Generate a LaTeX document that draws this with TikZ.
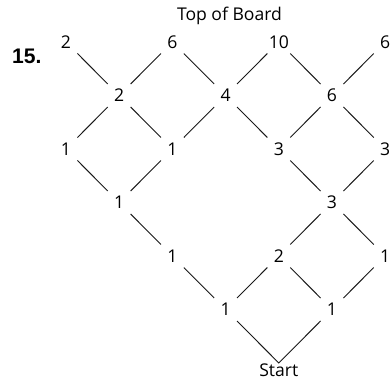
\documentclass[tikz,border=0pt]{standalone}
\usepackage{fontspec}
\setmainfont{Open Sans}
\newfontfamily\probfont{Liberation Sans}
\usepackage{tikz}

\begin{document}
\begin{tikzpicture}[x=1.596cm, y=-1.605cm, font=\fontsize{15}{17}\selectfont,
  val/.style={circle, inner sep=0pt, minimum size=0.96cm},
  peg/.style={line width=0.8pt, black!90}]
  \useasboundingbox (-1.2406,-0.785) rectangle (6.109,6.336);
  % title and number
  \node[anchor=base] (title) at (3.073,-0.411) {Top of Board};
  \node[anchor=base west, inner sep=0pt, font=\probfont\bfseries\fontsize{18}{20}\selectfont] (num) at (-1.015,0.393) {15.};
  % top row
  \node[val] (n00) at (0,0) {2};
  \node[val] (n20) at (2,0) {6};
  \node[val] (n40) at (4,0) {10};
  \node[val] (n60) at (6,0) {6};
  % next rows
  \node[val] (n11) at (1,1) {2};
  \node[val] (n31) at (3,1) {4};
  \node[val] (n51) at (5,1) {6};
  \node[val] (n02) at (0,2) {1};
  \node[val] (n22) at (2,2) {1};
  \node[val] (n42) at (4,2) {3};
  \node[val] (n62) at (6,2) {3};
  \node[val] (n13) at (1,3) {1};
  \node[val] (n53) at (5,3) {3};
  \node[val] (n24) at (2,4) {1};
  \node[val] (n44) at (4,4) {2};
  \node[val] (n64) at (6,4) {1};
  \node[val] (n35) at (3,5) {1};
  \node[val] (n55) at (5,5) {1};
  \coordinate (start) at (4,6);
  \node[anchor=north, inner sep=0.8pt] (startlbl) at (start) {Start};
  % paths
  \draw[peg] (n00) -- (n11) -- (n20) -- (n31) -- (n40) -- (n51) -- (n60);
  \draw[peg] (n02) -- (n11) -- (n22) -- (n31) -- (n42) -- (n51) -- (n62);
  \draw[peg] (n02) -- (n13) -- (n22);
  \draw[peg] (n42) -- (n53) -- (n62);
  \draw[peg] (n13) -- (n24) -- (n35) -- (start) -- (n55) -- (n64) -- (n53) -- (n44) -- (n35);
  \draw[peg] (n44) -- (n55);
\end{tikzpicture}
\end{document}
